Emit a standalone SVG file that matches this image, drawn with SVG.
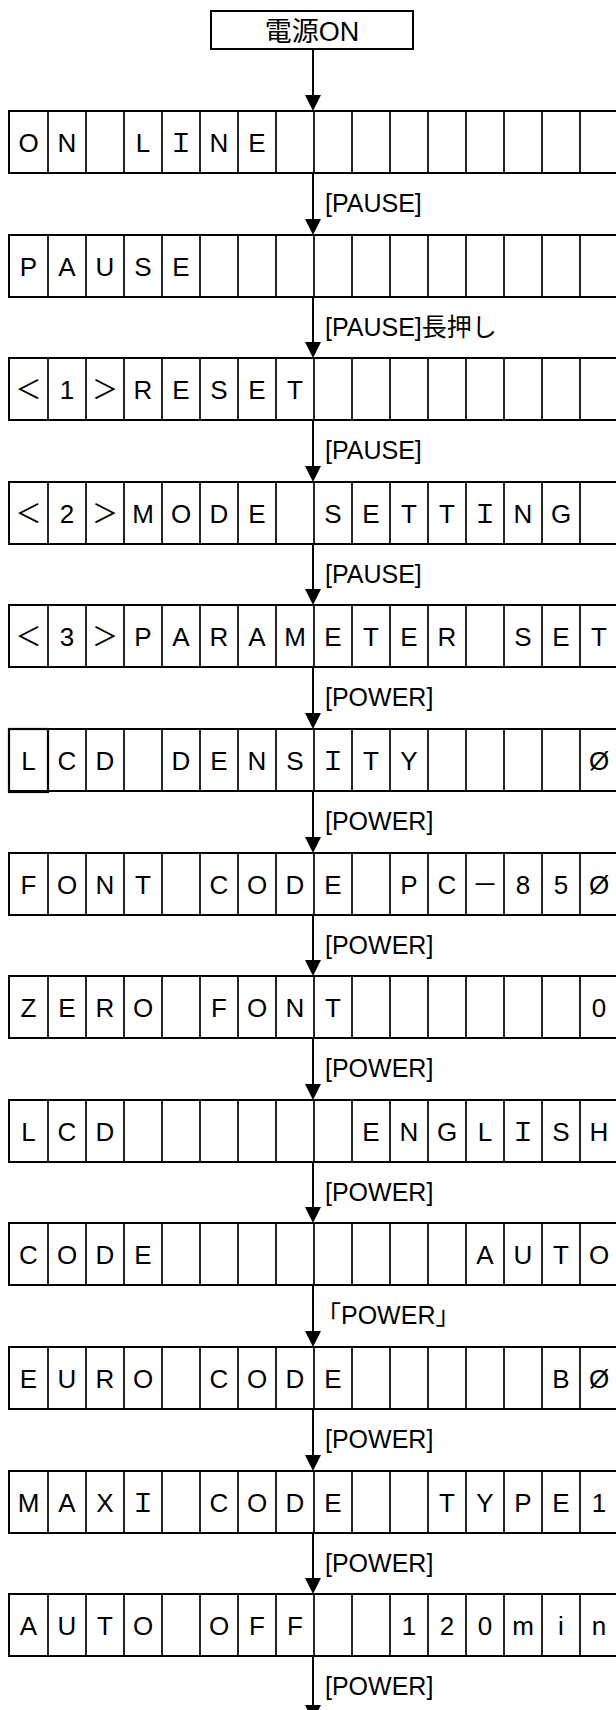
<svg xmlns="http://www.w3.org/2000/svg" xmlns:xlink="http://www.w3.org/1999/xlink" width="616" height="1710" viewBox="0 0 616 1710">
  <style>
    .frame{fill:none;stroke:#000;stroke-width:2}
    .sep{fill:none;stroke:#000;stroke-width:1.7}
    .ch{font-family:"Liberation Sans","Noto Sans CJK JP",sans-serif;font-size:26px;text-anchor:middle;fill:#000;white-space:pre}
    .lbl{font-family:"Liberation Sans","Noto Sans CJK JP",sans-serif;font-size:25px;fill:#000}
    .title{font-family:"Liberation Sans","Noto Sans CJK JP",sans-serif;font-size:27px;text-anchor:middle;fill:#000}
    .flow{fill:none;stroke:#000;stroke-width:2;marker-end:url(#head)}
  </style>
  <defs>
    <marker id="head" markerUnits="userSpaceOnUse" viewBox="0 0 16 16" markerWidth="16" markerHeight="16" refX="2" refY="8" orient="auto">
      <path d="M0,0 L16,8 L0,16 Z" fill="#000"/>
    </marker>
    <!-- one 16-cell LCD line; the right end runs past the page edge -->
    <g id="lcd">
      <rect class="frame" x="9" y="0" width="612" height="62"/>
      <path class="sep" d="M48 0V62M86 0V62M124 0V62M162 0V62M200 0V62M238 0V62M276 0V62M314 0V62M352 0V62M390 0V62M428 0V62M466 0V62M504 0V62M542 0V62M580 0V62"/>
    </g>
  </defs>
  <rect width="616" height="1710" fill="#fff"/>

  <g id="power-on">
    <rect class="frame" x="211" y="11" width="202" height="38"/>
    <text class="title" x="312" y="41">電源ON</text>
  </g>

  <g id="row-online">
    <use xlink:href="#lcd" y="111"/>
    <text class="ch" xml:space="preserve" y="152" x="28.5 67 105 143 181 219 257">ON LＩNE</text>
  </g>
  <g id="row-pause">
    <use xlink:href="#lcd" y="235"/>
    <text class="ch" xml:space="preserve" y="276" x="28.5 67 105 143 181">PAUSE</text>
  </g>
  <g id="row-reset">
    <use xlink:href="#lcd" y="358"/>
    <text class="ch" xml:space="preserve" y="399" x="28.5 67 105 143 181 219 257 295">＜1＞RESET</text>
  </g>
  <g id="row-mode-setting">
    <use xlink:href="#lcd" y="482"/>
    <text class="ch" xml:space="preserve" y="523" x="28.5 67 105 143 181 219 257 295 333 371 409 447 485 523 561">＜2＞MODE SETTＩNG</text>
  </g>
  <g id="row-parameter-set">
    <use xlink:href="#lcd" y="605"/>
    <text class="ch" xml:space="preserve" y="646" x="28.5 67 105 143 181 219 257 295 333 371 409 447 485 523 561 599">＜3＞PARAMETER SET</text>
  </g>
  <g id="row-lcd-density">
    <use xlink:href="#lcd" y="729"/>
    <rect x="9" y="729" width="39" height="63" fill="none" stroke="#000" stroke-width="2.2"/>
    <text class="ch" xml:space="preserve" y="770" x="28.5 67 105 143 181 219 257 295 333 371 409 447 485 523 561 599">LCD DENSＩTY    Ø</text>
  </g>
  <g id="row-font-code">
    <use xlink:href="#lcd" y="853"/>
    <text class="ch" xml:space="preserve" y="894" x="28.5 67 105 143 181 219 257 295 333 371 409 447 485 523 561 599">FONT CODE PC－85Ø</text>
  </g>
  <g id="row-zero-font">
    <use xlink:href="#lcd" y="976"/>
    <text class="ch" xml:space="preserve" y="1017" x="28.5 67 105 143 181 219 257 295 333 371 409 447 485 523 561 599">ZERO FONT      0</text>
  </g>
  <g id="row-lcd-english">
    <use xlink:href="#lcd" y="1100"/>
    <text class="ch" xml:space="preserve" y="1141" x="28.5 67 105 143 181 219 257 295 333 371 409 447 485 523 561 599">LCD      ENGLＩSH</text>
  </g>
  <g id="row-code-auto">
    <use xlink:href="#lcd" y="1223"/>
    <text class="ch" xml:space="preserve" y="1264" x="28.5 67 105 143 181 219 257 295 333 371 409 447 485 523 561 599">CODE        AUTO</text>
  </g>
  <g id="row-euro-code">
    <use xlink:href="#lcd" y="1347"/>
    <text class="ch" xml:space="preserve" y="1388" x="28.5 67 105 143 181 219 257 295 333 371 409 447 485 523 561 599">EURO CODE     BØ</text>
  </g>
  <g id="row-maxi-code">
    <use xlink:href="#lcd" y="1471"/>
    <text class="ch" xml:space="preserve" y="1512" x="28.5 67 105 143 181 219 257 295 333 371 409 447 485 523 561 599">MAXＩ CODE  TYPE1</text>
  </g>
  <g id="row-auto-off">
    <use xlink:href="#lcd" y="1594"/>
    <text class="ch" xml:space="preserve" y="1635" x="28.5 67 105 143 181 219 257 295 333 371 409 447 485 523 561 599">AUTO OFF  120min</text>
  </g>

  <!-- key transitions between screens -->
  <g id="connectors">
    <path class="flow" d="M313 49V97"/>
    <path class="flow" d="M313 173V221"/>
    <path class="flow" d="M313 297V344"/>
    <path class="flow" d="M313 420V468"/>
    <path class="flow" d="M313 544V591"/>
    <path class="flow" d="M313 667V715"/>
    <path class="flow" d="M313 791V839"/>
    <path class="flow" d="M313 915V962"/>
    <path class="flow" d="M313 1038V1086"/>
    <path class="flow" d="M313 1162V1209"/>
    <path class="flow" d="M313 1285V1333"/>
    <path class="flow" d="M313 1409V1457"/>
    <path class="flow" d="M313 1533V1580"/>
    <path class="flow" d="M313 1656V1707"/>
    <text class="lbl" x="325" y="212">[PAUSE]</text>
    <text class="lbl" x="325" y="336">[PAUSE]長押し</text>
    <text class="lbl" x="325" y="459">[PAUSE]</text>
    <text class="lbl" x="325" y="583">[PAUSE]</text>
    <text class="lbl" x="325" y="706">[POWER]</text>
    <text class="lbl" x="325" y="830">[POWER]</text>
    <text class="lbl" x="325" y="954">[POWER]</text>
    <text class="lbl" x="325" y="1077">[POWER]</text>
    <text class="lbl" x="325" y="1201">[POWER]</text>
    <text class="lbl" x="316" y="1324">「POWER」</text>
    <text class="lbl" x="325" y="1448">[POWER]</text>
    <text class="lbl" x="325" y="1572">[POWER]</text>
    <text class="lbl" x="325" y="1695">[POWER]</text>
  </g>
</svg>
